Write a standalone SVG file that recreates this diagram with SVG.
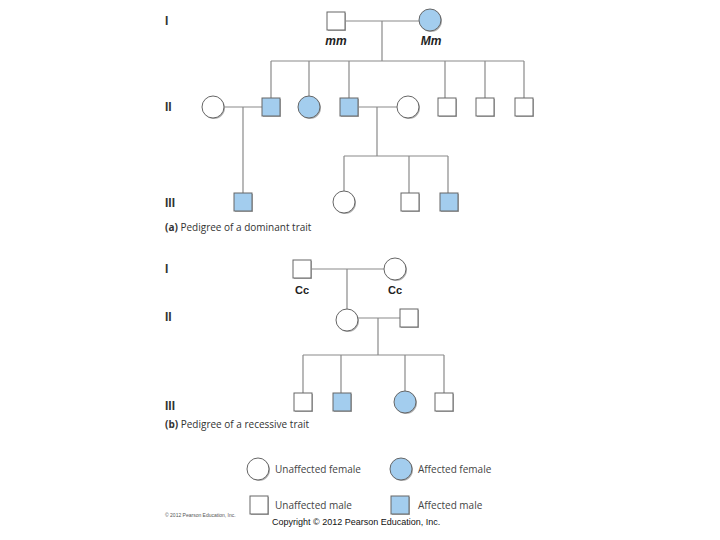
<svg xmlns="http://www.w3.org/2000/svg" width="720" height="540" viewBox="0 0 720 540">
<defs>
<style>
.bg{fill:#ffffff}
.ln{stroke:#8a8a8a;stroke-width:1.2;fill:none}
.u{fill:#ffffff;stroke:#666666;stroke-width:1}
.a{fill:#a3cdee;stroke:#666666;stroke-width:1}
.sh{fill:#b0b0b0;stroke:none}
.rn{font-family:"Liberation Sans",Arial,sans-serif;font-size:12px;font-weight:bold;fill:#333333}
.gt{font-family:"Liberation Sans",Arial,sans-serif;font-size:12px;font-weight:bold;font-style:italic;fill:#222222;text-anchor:middle}
.gc{font-family:"Liberation Sans",Arial,sans-serif;font-size:11px;font-weight:bold;fill:#222222;text-anchor:middle}
.cap{font-family:"Open Sans","Liberation Sans",Arial,sans-serif;font-size:10px;fill:#333333}
.lg{font-family:"Open Sans","Liberation Sans",Arial,sans-serif;font-size:10px;fill:#444444}
.sm{font-family:"Liberation Sans",Arial,sans-serif;font-size:5px;fill:#555555}
.cp{font-family:"Liberation Sans",Arial,sans-serif;font-size:9px;fill:#111111}
</style>
<g id="sqU"><rect class="sh" x="-8" y="-8" width="18" height="18"/><rect class="u" x="-9" y="-9" width="18" height="18"/></g>
<g id="sqA"><rect class="sh" x="-8" y="-8" width="18" height="18"/><rect class="a" x="-9" y="-9" width="18" height="18"/></g>
<g id="ciU"><circle class="sh" cx="1" cy="1" r="11"/><circle class="u" cx="0" cy="0" r="11"/></g>
<g id="ciA"><circle class="sh" cx="1" cy="1" r="11"/><circle class="a" cx="0" cy="0" r="11"/></g>
</defs>
<rect class="bg" x="0" y="0" width="720" height="540"/>

<g id="connectors">
<!-- (a) -->
<path class="ln" d="M345 21H419 M382 21V61 M271 61H524 M271 61V98 M309 61V96 M349 61V98 M445 61V98 M485 61V98 M524 61V98"/>
<path class="ln" d="M224 107H262 M243 107V193 M358 107H397 M377 107V156 M344 156H448 M344 156V191 M409 156V193 M448 156V193"/>
<!-- (b) -->
<path class="ln" d="M312 269H384 M347 269V309 M358 318H401 M378 318V355 M303 355H444 M303 355V393 M341 355V393 M405 355V391 M444 355V393"/>
</g>

<g id="labels-roman">
<text class="rn" x="165" y="25">I</text>
<text class="rn" x="165" y="111">II</text>
<text class="rn" x="165" y="207">III</text>
<text class="rn" x="165" y="273">I</text>
<text class="rn" x="165" y="321">II</text>
<text class="rn" x="165" y="410">III</text>
</g>

<!-- Pedigree (a) -->
<g id="a-I-male"><use href="#sqU" x="336" y="21"/><text class="gt" x="336" y="45">mm</text></g>
<g id="a-I-female"><use href="#ciA" x="430" y="20"/><text class="gt" x="431" y="45">Mm</text></g>
<g id="a-II-1"><use href="#ciU" x="213" y="107"/></g>
<g id="a-II-2"><use href="#sqA" x="271" y="107"/></g>
<g id="a-II-3"><use href="#ciA" x="309" y="107"/></g>
<g id="a-II-4"><use href="#sqA" x="349" y="107"/></g>
<g id="a-II-5"><use href="#ciU" x="408" y="107"/></g>
<g id="a-II-6"><use href="#sqU" x="447" y="107"/></g>
<g id="a-II-7"><use href="#sqU" x="485" y="107"/></g>
<g id="a-II-8"><use href="#sqU" x="524" y="107"/></g>
<g id="a-III-1"><use href="#sqA" x="243" y="202"/></g>
<g id="a-III-2"><use href="#ciU" x="344" y="202"/></g>
<g id="a-III-3"><use href="#sqU" x="410" y="202"/></g>
<g id="a-III-4"><use href="#sqA" x="449" y="202"/></g>
<text class="cap" x="165" y="231"><tspan font-weight="bold">(a)</tspan> Pedigree of a dominant trait</text>

<!-- Pedigree (b) -->
<g id="b-I-male"><use href="#sqU" x="302" y="269"/><text class="gc" x="302" y="294">Cc</text></g>
<g id="b-I-female"><use href="#ciU" x="395" y="269"/><text class="gc" x="395" y="294">Cc</text></g>
<g id="b-II-1"><use href="#ciU" x="347" y="320"/></g>
<g id="b-II-2"><use href="#sqU" x="409" y="318"/></g>
<g id="b-III-1"><use href="#sqU" x="303" y="402"/></g>
<g id="b-III-2"><use href="#sqA" x="342" y="402"/></g>
<g id="b-III-3"><use href="#ciA" x="405" y="402"/></g>
<g id="b-III-4"><use href="#sqU" x="444" y="402"/></g>
<text class="cap" x="165" y="428"><tspan font-weight="bold">(b)</tspan> Pedigree of a recessive trait</text>

<!-- Legend -->
<g id="legend-uf"><use href="#ciU" x="258" y="469"/><text class="lg" x="275" y="473">Unaffected female</text></g>
<g id="legend-af"><use href="#ciA" x="401" y="469"/><text class="lg" x="418" y="473">Affected female</text></g>
<g id="legend-um"><use href="#sqU" x="259" y="505"/><text class="lg" x="275" y="509">Unaffected male</text></g>
<g id="legend-am"><use href="#sqA" x="400" y="505"/><text class="lg" x="418" y="509">Affected male</text></g>

<text class="sm" x="165" y="517">© 2012 Pearson Education, Inc.</text>
<text class="cp" x="272" y="525">Copyright © 2012 Pearson Education, Inc.</text>
</svg>
